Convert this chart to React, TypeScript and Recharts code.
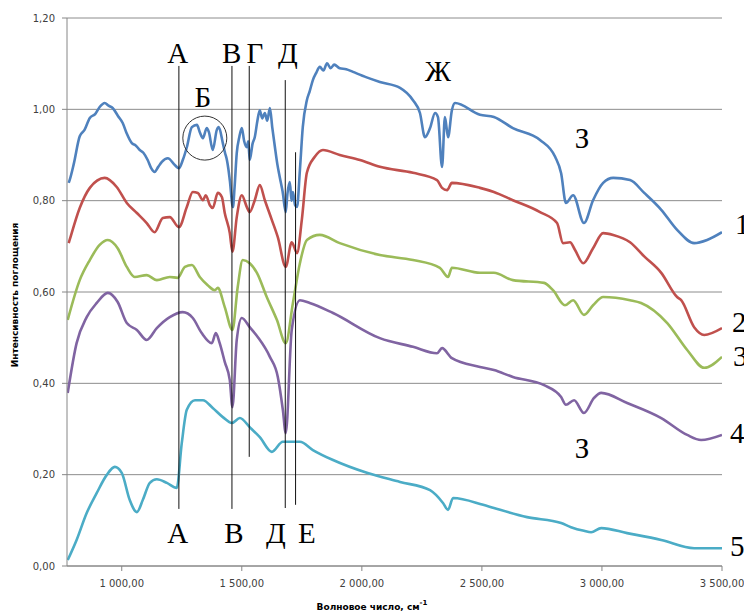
import React from 'react';
import { LineChart, Line, XAxis, YAxis, CartesianGrid, ReferenceLine, ReferenceDot } from 'recharts';

// wavenumber (cm-1), intensity
const series1: [number, number][] = [
  [779, 0.839], [783, 0.845], [800, 0.88], [825, 0.941], [845, 0.955], [867, 0.981], [890, 0.99], [908, 1.005], [929, 1.014], [945, 1.008],
  [962, 1.003], [985, 0.985], [1004, 0.970], [1020, 0.948], [1042, 0.926], [1058, 0.921], [1075, 0.911], [1090, 0.905], [1108, 0.889], [1122, 0.872],
  [1137, 0.863], [1152, 0.874], [1167, 0.885], [1192, 0.893], [1221, 0.878], [1238, 0.871], [1255, 0.89], [1271, 0.917],
  [1292, 0.961], [1313, 0.966], [1325, 0.950], [1338, 0.937], [1354, 0.959], [1363, 0.950], [1379, 0.911], [1396, 0.955],
  [1404, 0.961], [1421, 0.926], [1430, 0.905], [1438, 0.889], [1444, 0.87], [1450, 0.845], [1463, 0.786], [1470, 0.83], [1479, 0.904], [1490, 0.94], [1500, 0.959],
  [1510, 0.93], [1521, 0.917], [1527, 0.93], [1533, 0.889], [1545, 0.925], [1554, 0.939], [1565, 0.975], [1575, 0.998], [1585, 0.98], [1596, 0.992], [1606, 0.975], [1617, 1.003],
  [1627, 0.96], [1638, 0.917], [1648, 0.88], [1658, 0.852], [1670, 0.82], [1683, 0.775], [1690, 0.815], [1700, 0.841], [1707, 0.80], [1713, 0.819],
  [1722, 0.79], [1730, 0.786], [1742, 0.867], [1754, 0.961], [1771, 1.020], [1783, 1.04], [1796, 1.064], [1810, 1.08], [1825, 1.093],
  [1840, 1.085], [1855, 1.101], [1870, 1.09], [1885, 1.098], [1908, 1.090], [1935, 1.088], [1963, 1.082], [2020, 1.07], [2075, 1.060], [2159, 1.047],
  [2213, 1.020], [2242, 0.992], [2263, 0.939], [2284, 0.959], [2305, 0.992], [2317, 0.983], [2334, 0.874],
  [2346, 0.983], [2359, 0.939], [2375, 0.998], [2388, 1.014], [2492, 0.988], [2550, 0.983], [2629, 0.959], [2742, 0.933],
  [2805, 0.896], [2830, 0.860], [2850, 0.795], [2880, 0.812], [2925, 0.751], [2963, 0.801], [3005, 0.839], [3047, 0.850],
  [3117, 0.845], [3176, 0.817], [3247, 0.780], [3313, 0.736], [3384, 0.707], [3438, 0.714], [3500, 0.731],
];

const series2: [number, number][] = [
  [779, 0.707], [783, 0.714], [825, 0.784], [867, 0.828], [929, 0.850], [979, 0.830], [1021, 0.795], [1063, 0.773],
  [1104, 0.751], [1137, 0.731], [1171, 0.762], [1200, 0.764], [1238, 0.742], [1271, 0.786], [1296, 0.819], [1317, 0.817],
  [1338, 0.801], [1350, 0.812], [1367, 0.790], [1379, 0.784], [1400, 0.817], [1417, 0.808], [1429, 0.773], [1450, 0.729],
  [1461, 0.688], [1479, 0.764], [1500, 0.812], [1521, 0.786], [1533, 0.775], [1554, 0.801], [1575, 0.834], [1596, 0.801],
  [1625, 0.758], [1650, 0.720], [1683, 0.655], [1708, 0.709], [1730, 0.685], [1750, 0.758], [1771, 0.861], [1804, 0.896],
  [1838, 0.911], [1908, 0.900], [1992, 0.889], [2075, 0.874], [2213, 0.861], [2313, 0.845], [2334, 0.828], [2355, 0.823],
  [2375, 0.839], [2492, 0.828], [2550, 0.819], [2629, 0.801], [2742, 0.775], [2813, 0.751], [2838, 0.707], [2867, 0.709],
  [2888, 0.692], [2922, 0.663], [2963, 0.696], [3005, 0.729], [3047, 0.725], [3117, 0.709], [3176, 0.678], [3247, 0.642],
  [3313, 0.589], [3330, 0.582], [3384, 0.523], [3426, 0.506], [3500, 0.521],
];

const series3: [number, number][] = [
  [775, 0.539], [825, 0.626], [867, 0.670], [908, 0.703], [942, 0.714], [983, 0.696], [1021, 0.655], [1054, 0.633],
  [1104, 0.637], [1146, 0.626], [1200, 0.633], [1233, 0.631], [1263, 0.655], [1292, 0.659], [1325, 0.633], [1358, 0.615],
  [1388, 0.604], [1400, 0.609], [1429, 0.567], [1461, 0.517], [1483, 0.611], [1504, 0.670], [1533, 0.663], [1563, 0.642],
  [1604, 0.589], [1646, 0.539], [1683, 0.488], [1713, 0.576], [1742, 0.663], [1771, 0.714], [1825, 0.725], [1908, 0.707],
  [2075, 0.681], [2213, 0.670], [2325, 0.653], [2359, 0.633], [2375, 0.653], [2492, 0.642], [2550, 0.642], [2629, 0.626],
  [2759, 0.620], [2796, 0.604], [2846, 0.571], [2880, 0.582], [2925, 0.550], [2963, 0.571], [3005, 0.589], [3117, 0.582],
  [3163, 0.576], [3272, 0.532], [3355, 0.473], [3426, 0.434], [3500, 0.458],
];

const series4: [number, number][] = [
  [775, 0.379], [812, 0.488], [854, 0.545], [896, 0.576], [942, 0.598], [983, 0.578], [1021, 0.532], [1063, 0.517],
  [1104, 0.495], [1146, 0.521], [1200, 0.545], [1254, 0.556], [1296, 0.543], [1333, 0.510], [1375, 0.488], [1392, 0.510],
  [1408, 0.488], [1429, 0.447], [1450, 0.407], [1461, 0.348], [1479, 0.495], [1500, 0.543], [1533, 0.523], [1567, 0.501],
  [1617, 0.458], [1650, 0.414], [1671, 0.342], [1683, 0.291], [1708, 0.517], [1742, 0.582], [1783, 0.576], [1880, 0.554],
  [2075, 0.499], [2213, 0.480], [2313, 0.466], [2334, 0.477], [2375, 0.455], [2492, 0.436], [2550, 0.429], [2629, 0.414],
  [2759, 0.396], [2830, 0.370], [2850, 0.353], [2884, 0.363], [2925, 0.335], [2967, 0.368], [2997, 0.379], [3105, 0.357],
  [3247, 0.324], [3355, 0.287], [3413, 0.276], [3500, 0.287],
];

const series5: [number, number][] = [
  [775, 0.013], [812, 0.057], [854, 0.116], [896, 0.160], [937, 0.199], [971, 0.217], [1000, 0.204], [1033, 0.145],
  [1063, 0.118], [1088, 0.145], [1117, 0.182], [1146, 0.190], [1188, 0.182], [1229, 0.171], [1250, 0.269], [1271, 0.342],
  [1305, 0.363], [1338, 0.363], [1379, 0.346], [1421, 0.326], [1459, 0.313], [1492, 0.324], [1533, 0.304], [1575, 0.282],
  [1625, 0.250], [1671, 0.272], [1742, 0.272], [1796, 0.254], [1880, 0.232], [2021, 0.204], [2159, 0.184], [2284, 0.166],
  [2338, 0.138], [2359, 0.123], [2380, 0.149], [2505, 0.134], [2550, 0.127], [2688, 0.107], [2830, 0.094], [2871, 0.085],
  [2925, 0.077], [2955, 0.074], [2997, 0.083], [3105, 0.072], [3247, 0.057], [3384, 0.039], [3500, 0.039],
];

const xTicks = [1000, 1500, 2000, 2500, 3000, 3500];
const yTicks = [0, 0.2, 0.4, 0.6, 0.8, 1.0, 1.2];

const toRows = (s: [number, number][]) => s.map(([w, v]) => ({ w, v }));

const SERIES = [
  { name: '1', data: toRows(series1), color: '#4F81BD' },
  { name: '2', data: toRows(series2), color: '#C0504D' },
  { name: '3', data: toRows(series3), color: '#9BBB59' },
  { name: '4', data: toRows(series4), color: '#8064A2' },
  { name: '5', data: toRows(series5), color: '#4BACC6' },
];

// annotation marker lines: [wavenumber, from, to]
const markerLines: [number, number, number][] = [
  [1238, 0.125, 1.095],
  [1459, 0.125, 1.095],
  [1531, 0.239, 1.095],
  [1681, 0.127, 1.064],
  [1724, 0.134, 0.906],
];

const letters: [string, number, number][] = [
  ['А', 1233, 1.123], ['Б', 1338, 1.027], ['В', 1458, 1.123], ['Г', 1554, 1.123], ['Д', 1692, 1.123],
  ['Ж', 2317, 1.084], ['З', 2917, 0.937], ['З', 2917, 0.258],
  ['А', 1233, 0.072], ['В', 1467, 0.072], ['Д', 1642, 0.072], ['Е', 1771, 0.072],
];

const endLabels: [string, number, number][] = [
  ['1', 0.749, 12], ['2', 0.534, 9], ['3', 0.460, 10], ['4', 0.291, 7], ['5', 0.044, 7],
];

const fmt = (v: number) => {
  const [i, d] = v.toFixed(2).split('.');
  return i.replace(/\B(?=(\d{3})+(?!\d))/g, ' ') + ',' + d;
};

const SERIF = '"Liberation Serif", "Times New Roman", serif';
const SANS = '"DejaVu Sans", Verdana, sans-serif';

const centerLabel = (t: string) => (props: any) => {
  const vb = props.viewBox;
  const cx = vb.x + vb.width / 2;
  const cy = vb.y + vb.height / 2;
  return (
    <text x={cx} y={cy} textAnchor="middle" dominantBaseline="central" fontFamily={SERIF} fontSize={29} fill="#000">
      {t}
    </text>
  );
};

const rightLabel = (t: string, off: number) => (props: any) => {
  const vb = props.viewBox;
  const cy = vb.y + vb.height / 2;
  return (
    <text x={vb.x + vb.width + off} y={cy} textAnchor="start" dominantBaseline="central" fontFamily={SERIF} fontSize={29} fill="#000">
      {t}
    </text>
  );
};

const YTitle = (props: any) => {
  const vb = props.viewBox;
  const cx = vb.x + 15;
  const cy = vb.y + vb.height / 2 + 3;
  return (
    <text x={cx} y={cy} transform={`rotate(-90 ${cx} ${cy})`} textAnchor="middle" dominantBaseline="central"
      fontFamily={SANS} fontWeight="bold" fontSize={9} fill="#000">
      Интенсивность поглощения
    </text>
  );
};

const XTitle = (props: any) => {
  const vb = props.viewBox;
  const cx = vb.x + 305;
  const cy = vb.y + 41;
  return (
    <text x={cx} y={cy} textAnchor="middle" dominantBaseline="central" fontFamily={SANS} fontWeight="bold" fontSize={9} fill="#000">
      <tspan>Волновое число, см</tspan>
      <tspan dy={-4} fontSize={7}>-1</tspan>
    </text>
  );
};

export default function App() {
  return (
    <div style={{ position: 'absolute', left: 0, top: 0, width: 744, height: 614, background: '#fff' }}>
      <LineChart width={744} height={614} margin={{ top: 18, right: 22, left: 0, bottom: 0 }}>
        <CartesianGrid vertical={false} stroke="#8c8c8c" strokeWidth={1} />
        <XAxis
          dataKey="w"
          type="number"
          domain={[772, 3500]}
          ticks={xTicks}
          allowDataOverflow
          tickFormatter={fmt}
          height={48}
          tickSize={5}
          tickMargin={9}
          stroke="#868686"
          tick={{ fontSize: 10, fill: '#404040', fontFamily: SANS }}
          label={<XTitle />}
        />
        <YAxis
          type="number"
          domain={[0, 1.2]}
          ticks={yTicks}
          tickFormatter={fmt}
          width={67}
          tickSize={5}
          tickMargin={7}
          stroke="#868686"
          tick={{ fontSize: 10, fill: '#404040', fontFamily: SANS }}
          label={<YTitle />}
        />
        {SERIES.map((s) => (
          <Line
            key={s.name}
            data={s.data}
            dataKey="v"
            type="monotoneX"
            stroke={s.color}
            strokeWidth={2.6}
            dot={false}
            activeDot={false}
            isAnimationActive={false}
          />
        ))}
        {markerLines.map(([w, a, b], i) => (
          <ReferenceLine key={'ml' + i} segment={[{ x: w, y: a }, { x: w, y: b }]} stroke="#111" strokeWidth={1} />
        ))}
        <ReferenceDot x={1346} y={0.937} r={22} fill="none" stroke="#333" strokeWidth={1} />
        {letters.map(([t, w, v], i) => (
          <ReferenceDot key={'lt' + i} x={w} y={v} r={1} fill="none" stroke="none" label={centerLabel(t)} />
        ))}
        {endLabels.map(([t, v, off], i) => (
          <ReferenceDot key={'el' + i} x={3500} y={v} r={1} fill="none" stroke="none" ifOverflow="visible" label={rightLabel(t, off)} />
        ))}
      </LineChart>
    </div>
  );
}
